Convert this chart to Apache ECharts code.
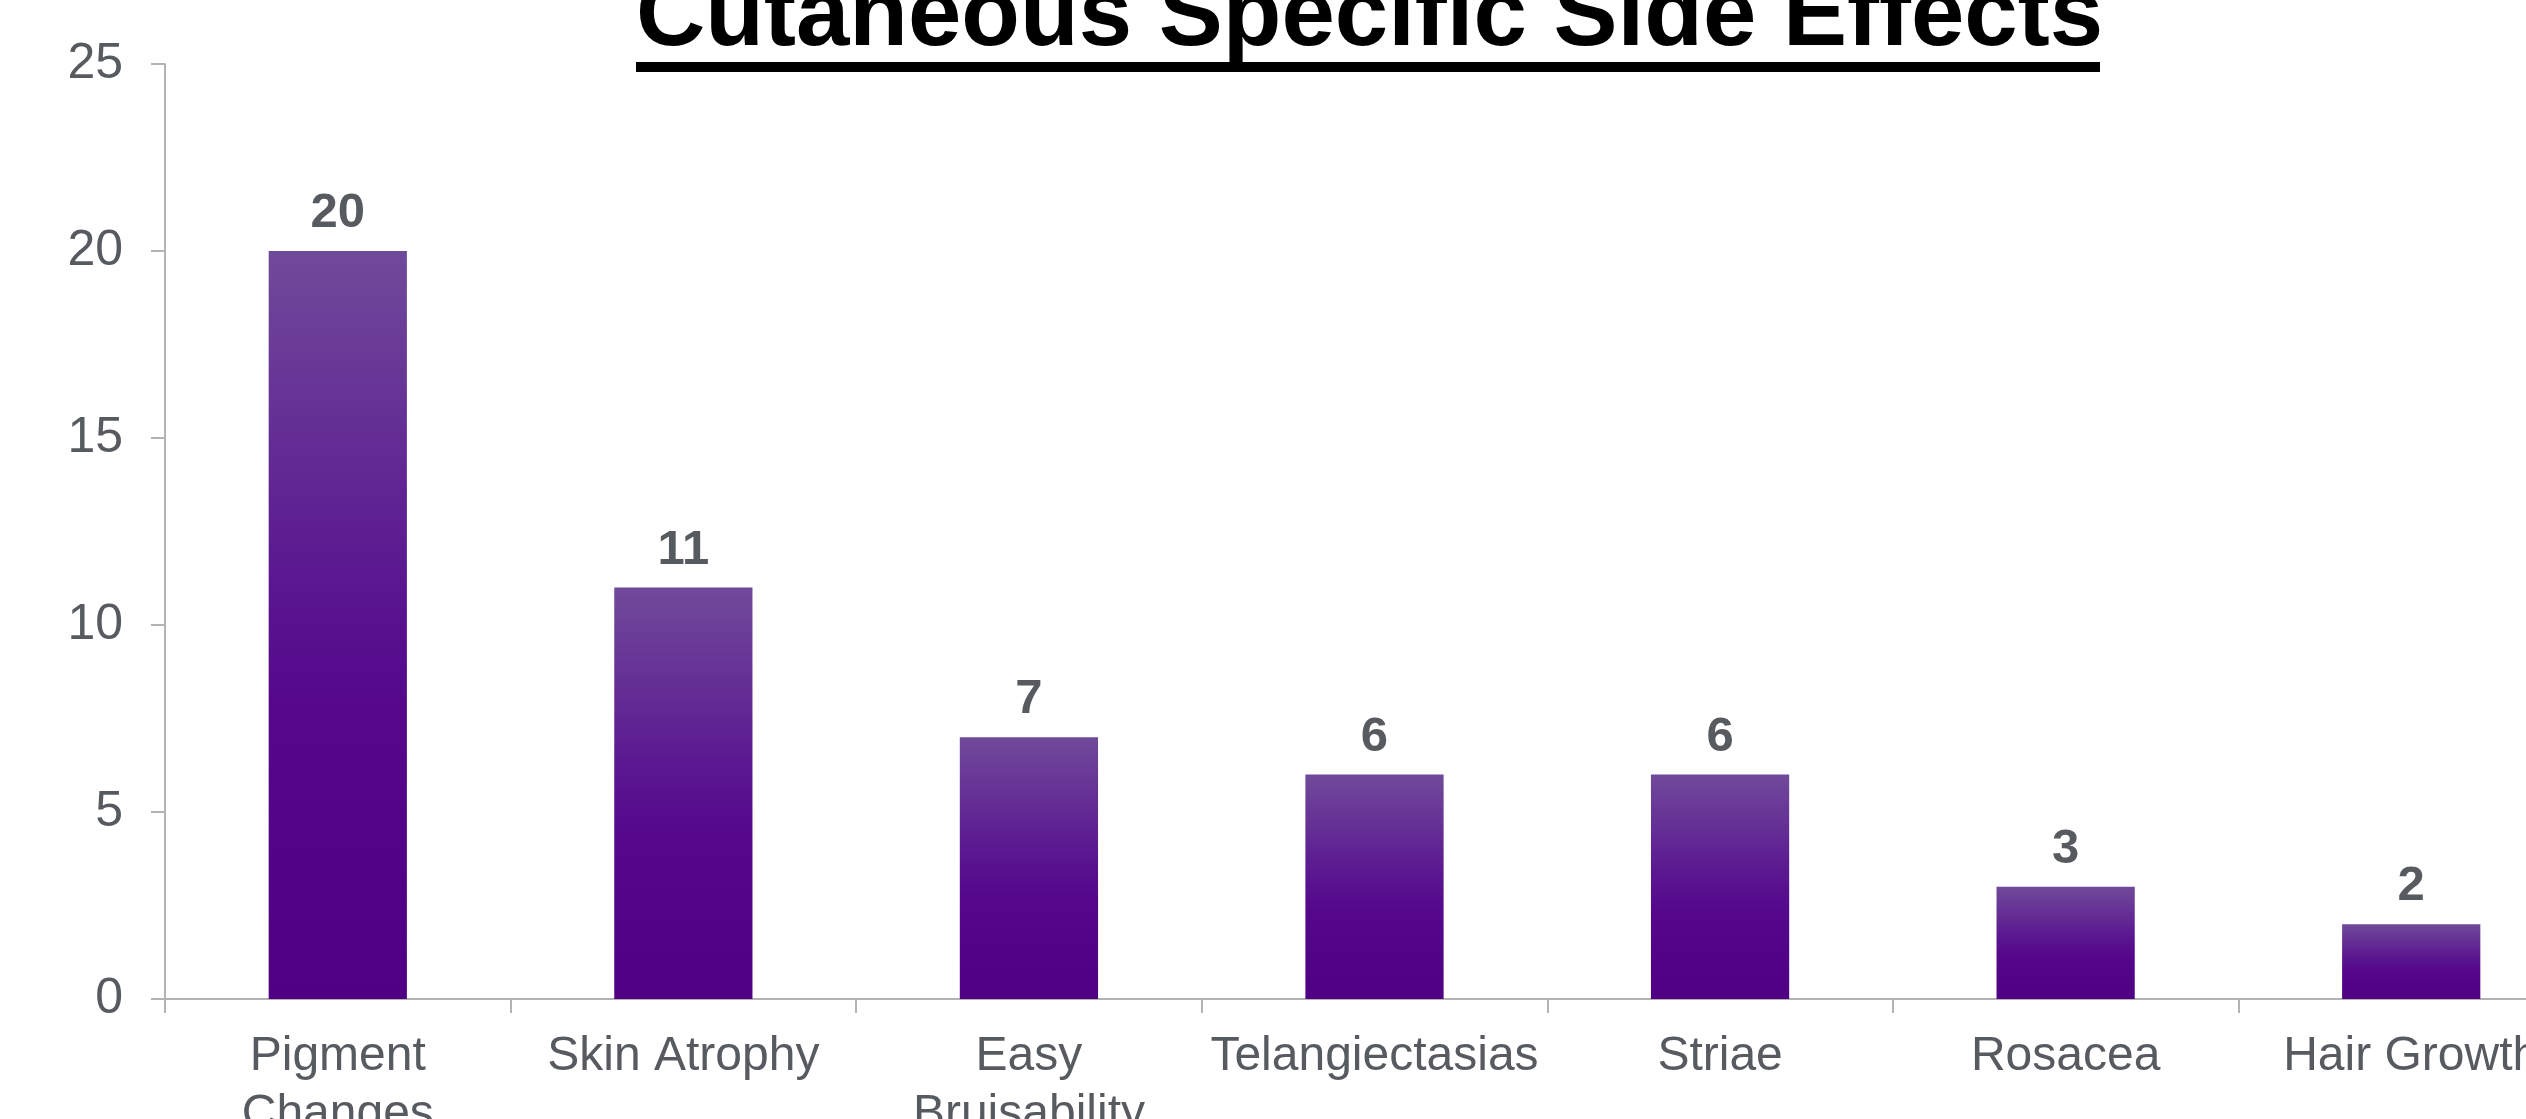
<!DOCTYPE html>
<html>
<head>
<meta charset="utf-8">
<script src="https://cdn.jsdelivr.net/npm/echarts@6/dist/echarts.min.js"></script>
<style>html,body{margin:0;padding:0;background:#fff;}#c{width:2526px;height:1119px;}</style>
</head>
<body>
<div id="c"></div>
<script>
const titleText = 'Cutaneous Specific Side Effects';
const categories = ['Pigment Changes', 'Skin Atrophy', 'Easy Bruisability', 'Telangiectasias', 'Striae', 'Rosacea', 'Hair Growth'];
const counts = [20, 11, 7, 6, 6, 3, 2];
const yTicks = [0, 5, 10, 15, 20, 25];

const FONT = '"Liberation Sans", Arial, sans-serif';
const GRAY = '#575b60';
const AXIS = '#b3b3b3';

const measureCtx = document.createElement('canvas').getContext('2d');
measureCtx.font = '48px ' + FONT;
function wrapLabel(v) {
  if (measureCtx.measureText(v).width <= 340) return v;
  return v.split(' ').join('\n');
}

const chart = echarts.init(document.getElementById('c'), null, {renderer: 'canvas'});
chart.setOption({
  animation: false,
  backgroundColor: '#ffffff',
  title: {
    text: titleText,
    left: 636,
    top: -29,
    padding: 0,
    textStyle: {fontFamily: FONT, fontSize: 96, fontWeight: 'bold', color: '#000', lineHeight: 96}
  },
  graphic: [{
    type: 'rect', left: 636, top: 62, shape: {width: 1464, height: 10}, style: {fill: '#000'}
  }],
  grid: {left: 165, right: -58, top: 64, bottom: 120, containLabel: false, outerBoundsMode: 'none'},
  xAxis: {
    type: 'category',
    data: categories,
    axisLine: {lineStyle: {color: AXIS, width: 2}},
    axisTick: {show: true, length: 14, lineStyle: {color: AXIS, width: 2}, alignWithLabel: false},
    axisLabel: {
      interval: 0, margin: 29, color: GRAY, fontFamily: FONT, fontSize: 48, lineHeight: 58,
      formatter: wrapLabel, hideOverlap: false
    }
  },
  yAxis: {
    type: 'value',
    min: yTicks[0], max: yTicks[yTicks.length - 1], interval: yTicks[1] - yTicks[0],
    axisLine: {show: true, lineStyle: {color: AXIS, width: 2}},
    axisTick: {show: true, length: 14, lineStyle: {color: AXIS, width: 2}},
    splitLine: {show: false},
    axisLabel: {margin: 42, color: GRAY, fontFamily: FONT, fontSize: 50}
  },
  series: [{
    type: 'bar',
    data: counts,
    barWidth: '40%',
    itemStyle: {
      color: new echarts.graphic.LinearGradient(0, 0, 0, 1, [
        {offset: 0, color: '#704a9a'},
        {offset: 0.45, color: '#5a1690'},
        {offset: 0.6, color: '#55088c'},
        {offset: 1, color: '#4f0083'}
      ])
    },
    label: {
      show: true, position: 'top', distance: 13,
      color: GRAY, fontFamily: FONT, fontSize: 49, fontWeight: 'bold'
    }
  }]
});
</script>
</body>
</html>
